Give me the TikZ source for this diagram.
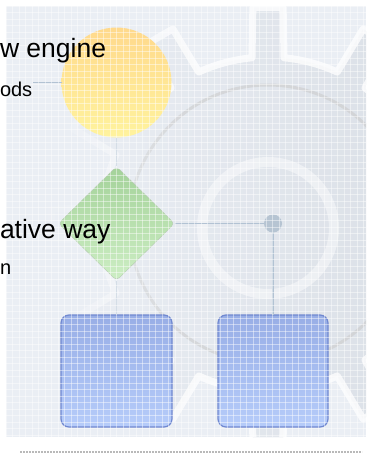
\documentclass[tikz,border=0pt]{standalone}
\usepackage{fontspec}
\setmainfont{Liberation Sans}
\usetikzlibrary{positioning,shapes.geometric,fadings}

\definecolor{bgpanel}{HTML}{EAEEF4}
\definecolor{gearbody}{HTML}{D8DDE4}
\definecolor{linkcol}{HTML}{B2C2D3}
\definecolor{jointcol}{HTML}{B6C4D2}
\definecolor{startA}{HTML}{FFD98C}
\definecolor{startB}{HTML}{FFCB6C}
\definecolor{startC}{HTML}{FFF39E}
\definecolor{decA}{HTML}{A4D29A}
\definecolor{decB}{HTML}{CDEEC4}
\definecolor{procA}{HTML}{98AEE6}
\definecolor{procB}{HTML}{B6CCFA}
\definecolor{procedge}{HTML}{7088D0}

\begin{document}
\begin{tikzpicture}[x=1pt, y=-1pt,
  every node/.style={inner sep=0pt, outer sep=0pt},
  bigtext/.style={anchor=base west, font=\fontsize{26.5}{30}\selectfont},
  smalltext/.style={anchor=base west, font=\fontsize{20}{24}\selectfont},
  startnode/.style={circle, minimum size=110pt, top color=startA, middle color=startB, bottom color=startC},
  decnode/.style={diamond, minimum width=116pt, minimum height=114pt, rounded corners=4pt,
    draw=decA!80!black!60, top color=decA, bottom color=decB},
  procbox/.style={rectangle, minimum width=111pt, minimum height=112pt, rounded corners=8pt,
    draw=procedge, line width=1.2pt, top color=procA, bottom color=procB},
  joint/.style={circle, minimum size=18pt, fill=jointcol},
  link/.style={draw=linkcol, line width=1.6pt}]
\useasboundingbox (0,0) rectangle (369,455);

% background panel and gear
\fill[bgpanel] (6,6) rectangle (366,437);
\coordinate (gc) at (268,224);
\begin{scope}
\clip (6,6) rectangle (366,437);
\begin{scope}[shift={(gc)}]
\shade[left color=bgpanel, right color=gearbody] (-5.5:167) \foreach \a in {0,30,...,330}{
  -- (\a-5.5:167) -- (\a-4:217) -- (\a+4:217) -- (\a+5.5:167)
  arc[start angle=\a+5.5, end angle=\a+24.5, radius=167]} -- cycle;
\draw[white, opacity=.75, line width=7pt, line join=round] (-5.5:167) \foreach \a in {0,30,...,330}{
  -- (\a-5.5:167) -- (\a-4:217) -- (\a+4:217) -- (\a+5.5:167)
  arc[start angle=\a+5.5, end angle=\a+24.5, radius=167]} -- cycle;
\draw[gray!40, opacity=.6, line width=3pt] (0,0) circle[radius=139];
\draw[white, opacity=.45, line width=10pt] (0,4) circle[radius=66];
\end{scope}
% fade the gear out towards the left
\fill[bgpanel, path fading=east] (6,6) rectangle (190,437);
\fill[bgpanel, path fading=east] (6,6) rectangle (120,437);
\end{scope}

% flow chart
\node[startnode] (start) at (116.5,82.5) {};
\node[decnode] (dec) at (116.5,223.5) {};
\node[joint] (j) at (273,223.5) {};
\node[procbox] (p1) at (116.5,371) {};
\node[procbox, minimum width=110pt] (p2) at (273,371) {};
\coordinate (methend) at (33,82.5);

\draw[link] (start.west) -- (methend);
\draw[link] (start) -- (dec);
\draw[link] (dec) -- (p1);
\draw[link] (dec) -- (j);
\draw[link] (j) -- (p2);

% grid overlay
\foreach \x in {6,12.5,...,366} \draw[white, opacity=.45, line width=.8pt] (\x,6) -- (\x,437);
\foreach \y in {6,12.5,...,437} \draw[white, opacity=.45, line width=.8pt] (6,\y) -- (366,\y);

\node[bigtext] (t1) at (0,57) {w engine};
\node[smalltext] (meth) at (0,96) {ods};
\node[bigtext] (t3) at (0,238) {ative way};
\node[smalltext] (t4) at (0,274) {n};

\draw[gray!55, line width=1.5pt, dash pattern=on 2pt off 1pt] (20,452) -- (362,452);
\end{tikzpicture}
\end{document}
